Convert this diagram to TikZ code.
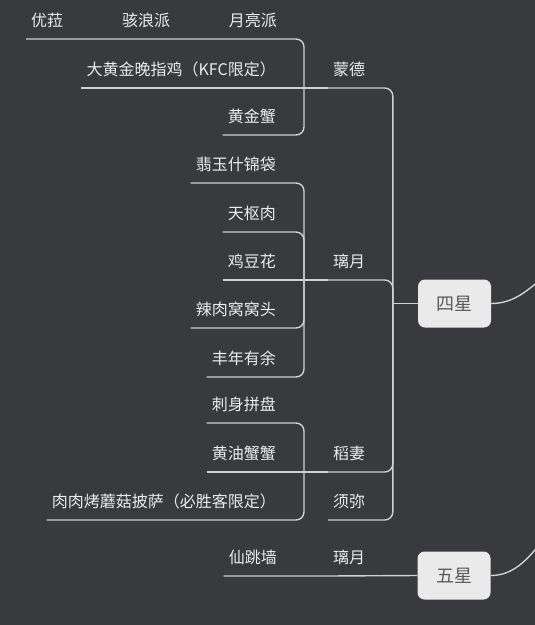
\documentclass[tikz,border=0pt]{standalone}
\usepackage{fontspec}
\setmainfont{Noto Sans CJK SC}
\definecolor{bgc}{HTML}{393A3E}
\definecolor{linec}{HTML}{D0D0D0}
\definecolor{txtc}{HTML}{EBEBEB}
\definecolor{boxc}{HTML}{EAEAEA}
\definecolor{boxtxt}{HTML}{5A5A5A}
\begin{document}
\begin{tikzpicture}[x=1pt,y=-1pt,
  lbl/.style={text=txtc, font=\fontsize{16}{18}\selectfont, inner xsep=5pt, inner ysep=9.5pt, text height=13pt, text depth=3pt},
  conn/.style={draw=linec, line width=1.4pt, rounded corners=8pt},
  starbox/.style={fill=boxc, text=boxtxt, rounded corners=7pt, minimum width=73pt, minimum height=48pt, font=\fontsize{18}{20}\selectfont, inner sep=0pt}
]
\fill[bgc] (0,0) rectangle (535,625);
\useasboundingbox (0,0) rectangle (535,625);

% star boxes
\node[starbox] (sixing) at (454.5,303.5) {四星};
\node[starbox] (wuxing) at (454,575.5) {五星};

% region nodes
\node[lbl, anchor=south west] (mengde) at (328,88) {蒙德};
\node[lbl, anchor=south west] (liyue) at (328,280) {璃月};
\node[lbl, anchor=south west] (daoqi) at (328,472) {稻妻};
\node[lbl, anchor=south west] (xumi) at (328,520) {须弥};
\node[lbl, anchor=south west] (liyuefive) at (328,576) {璃月};

% Mondstadt dishes
\node[lbl, anchor=south west] (youla) at (26,39) {优菈};
\node[lbl, anchor=south] (hailang) at (146,39) {骇浪派};
\node[lbl, anchor=south east] (yueliang) at (282,39) {月亮派};
\node[lbl, anchor=south east] (dahuang) at (281,88) {大黄金晚指鸡（KFC限定）};
\node[lbl, anchor=south east] (huangjin) at (281,135) {黄金蟹};

% Liyue dishes
\node[lbl, anchor=south east] (feiyu) at (281,183) {翡玉什锦袋};
\node[lbl, anchor=south east] (tianshu) at (281,232) {天枢肉};
\node[lbl, anchor=south east] (jidou) at (281,280) {鸡豆花};
\node[lbl, anchor=south east] (larou) at (281,328) {辣肉窝窝头};
\node[lbl, anchor=south east] (fengnian) at (281,377) {丰年有余};

% Inazuma dishes
\node[lbl, anchor=south east] (cishen) at (281,423) {刺身拼盘};
\node[lbl, anchor=south east] (huangyou) at (281,472) {黄油蟹蟹};
\node[lbl, anchor=south east] (rourou) at (281,520) {肉肉烤蘑菇披萨（必胜客限定）};

% five star dish
\node[lbl, anchor=south east] (xiantiao) at (282,576) {仙跳墙};

% spine junction points
\coordinate (jm) at ([xshift=-24pt]mengde.south west);
\coordinate (jl) at ([xshift=-24pt]liyue.south west);
\coordinate (jd) at ([xshift=-24pt]daoqi.south west);
\coordinate (js) at ([xshift=-25pt]sixing.west);

% connectors: Mondstadt
\draw[conn] (youla.south west) -- (hailang.south west) -- (yueliang.south west) -| (jm);
\draw[conn] (dahuang.south west) -- (mengde.south west);
\draw[conn] (huangjin.south west) -| (jm);

% connectors: Liyue
\draw[conn] (feiyu.south west) -| (jl);
\draw[conn] (tianshu.south west) -| (jl);
\draw[conn] (jidou.south west) -- (liyue.south west);
\draw[conn] (larou.south west) -| (jl);
\draw[conn] (fengnian.south west) -| (jl);

% connectors: Inazuma
\draw[conn] (cishen.south west) -| (jd);
\draw[conn] (huangyou.south west) -- (daoqi.south west);
\draw[conn] (rourou.south west) -| (jd);

% connectors: regions to four star
\draw[conn] (mengde.south west) -| (js);
\draw[conn] (liyue.south west) -| (js);
\draw[conn] (daoqi.south west) -| (js);
\draw[conn] (xumi.south west) -| (js);
\draw[conn] (js) -- (sixing.west);

% five star chain
\draw[conn] (xiantiao.south west) -- (liyuefive.south west) -- (wuxing.west);

% to root (off picture)
\coordinate (rootA) at (552,270);
\coordinate (rootB) at (552,528);
\draw[conn] (sixing.east) .. controls (516,303.5) and (530,288) .. (rootA);
\draw[conn] (wuxing.east) .. controls (515,575.5) and (530,558) .. (rootB);
\end{tikzpicture}
\end{document}
